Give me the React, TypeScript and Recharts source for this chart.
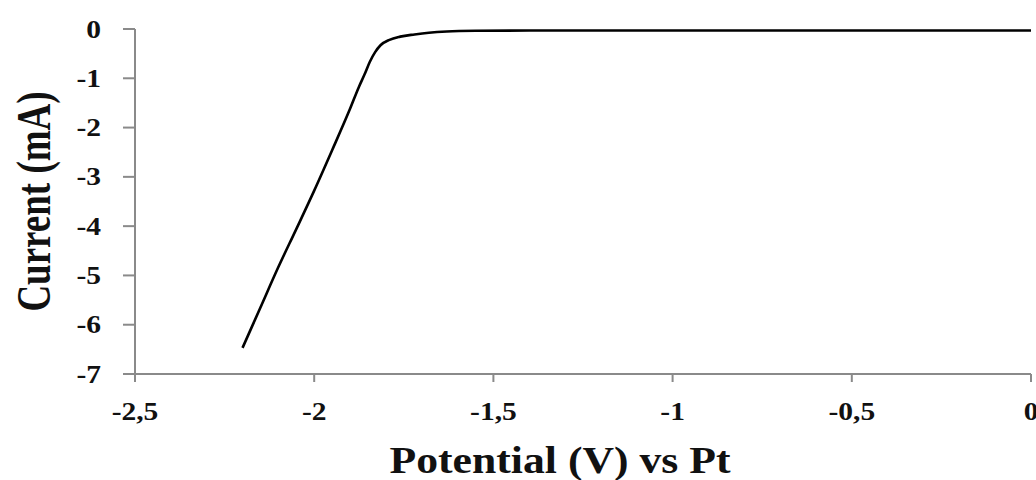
import { LineChart, Line, XAxis, YAxis, Label } from 'recharts';

const potential = [
  -2.2, -2.15, -2.1, -2.05, -2.0, -1.95, -1.9, -1.875, -1.86, -1.845, -1.83, -1.815,
  -1.79, -1.76, -1.72, -1.68, -1.63, -1.55, -1.4, -1.0, -0.5, 0,
];
const current = [
  -6.47, -5.65, -4.83, -4.06, -3.28, -2.46, -1.62, -1.17, -0.93, -0.67, -0.47, -0.33,
  -0.22, -0.155, -0.11, -0.075, -0.05, -0.036, -0.03, -0.03, -0.03, -0.03,
];

const xTicks = [-2.5, -2, -1.5, -1, -0.5, 0];
const yTicks = [-7, -6, -5, -4, -3, -2, -1, 0];

const data = potential.map((v, i) => ({ v, i: current[i] }));

const FONT = '"Liberation Serif", "Times New Roman", serif';
const AXIS = '#8a8a8a';
const STRETCH = 1.18;

const fmt = (n: number) => String(n).replace('.', ',');

function XTick({ x, y, payload }: any) {
  return (
    <text
      transform={`translate(${x},${y + 38}) scale(${STRETCH},1)`}
      textAnchor="middle"
      fontFamily={FONT}
      fontWeight="bold"
      fontSize={25}
      fill="#111"
    >
      {fmt(payload.value)}
    </text>
  );
}

function YTick({ x, y, payload }: any) {
  return (
    <text
      transform={`translate(${x},${y + 8.5}) scale(${STRETCH},1)`}
      textAnchor="end"
      fontFamily={FONT}
      fontWeight="bold"
      fontSize={25}
      fill="#111"
    >
      {fmt(payload.value)}
    </text>
  );
}

function XTitle({ viewBox }: any) {
  const cx = viewBox.x + viewBox.width / 2 - 23;
  return (
    <text
      transform={`translate(${cx},473) scale(1.15,1)`}
      textAnchor="middle"
      fontFamily={FONT}
      fontWeight="bold"
      fontSize={38}
      fill="#111"
    >
      Potential (V) vs Pt
    </text>
  );
}

function YTitle({ viewBox }: any) {
  const cy = viewBox.y + viewBox.height / 2;
  return (
    <text
      transform={`translate(50,${cy}) scale(1.3,1) rotate(-90)`}
      textAnchor="middle"
      fontFamily={FONT}
      fontWeight="bold"
      fontSize={37}
      fill="#111"
    >
      Current (mA)
    </text>
  );
}

export default function App() {
  return (
    <div style={{ position: 'absolute', left: 0, top: 0, background: '#fff' }}>
      <LineChart width={1036} height={480} data={data} margin={{ top: 29, right: 5, bottom: 0, left: 0 }}>
        <XAxis
          dataKey="v"
          type="number"
          domain={[-2.5, 0]}
          ticks={xTicks}
          height={106}
          tickSize={8}
          tickMargin={0}
          axisLine={{ stroke: AXIS, strokeWidth: 2 }}
          tickLine={{ stroke: AXIS, strokeWidth: 2 }}
          tick={<XTick />}
        >
          <Label content={<XTitle />} />
        </XAxis>
        <YAxis
          type="number"
          domain={[-7, 0]}
          ticks={yTicks}
          width={135}
          tickSize={12}
          tickMargin={22}
          axisLine={{ stroke: AXIS, strokeWidth: 2 }}
          tickLine={{ stroke: AXIS, strokeWidth: 2 }}
          tick={<YTick />}
        >
          <Label content={<YTitle />} />
        </YAxis>
        <Line
          dataKey="i"
          type="monotone"
          stroke="#000"
          strokeWidth={2.6}
          dot={false}
          isAnimationActive={false}
        />
      </LineChart>
    </div>
  );
}
